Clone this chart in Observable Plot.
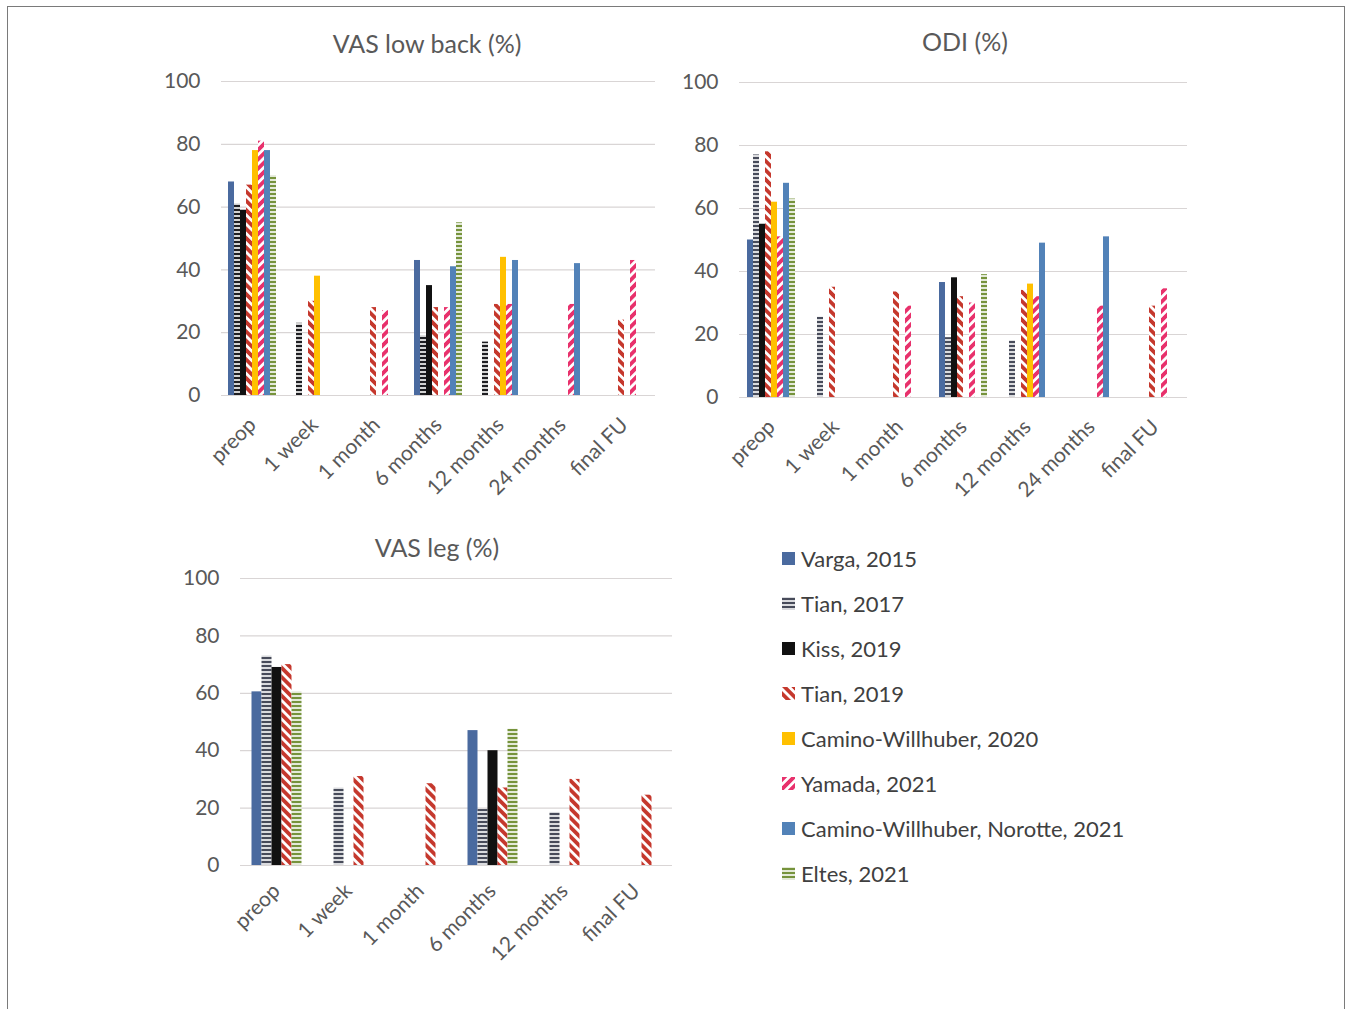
<!DOCTYPE html>
<html>
<head>
<meta charset="utf-8">
<script src="https://cdn.jsdelivr.net/npm/d3@7"></script>
<script src="https://cdn.jsdelivr.net/npm/@observablehq/plot@0.6"></script>
<style>
  html, body { margin: 0; padding: 0; background: #fff; }
  body { width: 1351px; height: 1009px; position: relative; overflow: hidden; font-family: Lato, "Open Sans", sans-serif; }
  #frame { position: absolute; left: 7px; top: 6px; width: 1338px; height: 1010px; border: 1px solid #7a7a7a; box-sizing: border-box; }
  .chart { position: absolute; }
  .title { position: absolute; font-size: 25px; color: #595959; transform: translate(-50%, -50%); white-space: nowrap; }
  #legend { position: absolute; left: 782px; top: 536px; }
  .item { display: flex; align-items: center; height: 45px; font-size: 22px; color: #404040; white-space: nowrap; }
  .item svg { margin-right: 6px; }
</style>
</head>
<body>
<div id="frame"></div>
<svg width="0" height="0" style="position:absolute">
  <defs>
    <pattern id="pTian17" patternUnits="userSpaceOnUse" width="6" height="4">
      <rect width="6" height="4" fill="#fff"/><rect y="0.8" width="6" height="2.4" fill="#474b5a"/>
    </pattern>
    <pattern id="pTian17k" patternUnits="userSpaceOnUse" width="6" height="4">
      <rect width="6" height="4" fill="#fff"/><rect y="0.8" width="6" height="2.4" fill="#1e1e22"/>
    </pattern>
    <pattern id="pEltes" patternUnits="userSpaceOnUse" width="6" height="4">
      <rect width="6" height="4" fill="#fff"/><rect y="0.8" width="6" height="2.4" fill="#76933c"/>
    </pattern>
    <pattern id="pTian19" patternUnits="userSpaceOnUse" width="6.6" height="6.6" patternTransform="rotate(-45)">
      <rect width="6.6" height="6.6" fill="#fff"/><rect width="3.8" height="6.6" fill="#c5382d"/>
    </pattern>
    <pattern id="pYamada" patternUnits="userSpaceOnUse" width="6.6" height="6.6" patternTransform="rotate(45)">
      <rect width="6.6" height="6.6" fill="#fff"/><rect width="3.8" height="6.6" fill="#e8316c"/>
    </pattern>
  </defs>
</svg>
<div class="title" style="left:427px;top:43px">VAS low back (%)</div>
<div class="title" style="left:965px;top:41px">ODI (%)</div>
<div class="title" style="left:437px;top:547px">VAS leg (%)</div>
<div id="c1" class="chart" style="left:140px;top:60px"></div>
<div id="c2" class="chart" style="left:660px;top:60px"></div>
<div id="c3" class="chart" style="left:150px;top:560px"></div>
<div id="legend"></div>
<script>
// ---- series ----
const seriesAll = ["Varga, 2015", "Tian, 2017", "Kiss, 2019", "Tian, 2019", "Camino-Willhuber, 2020", "Yamada, 2021", "Camino-Willhuber, Norotte, 2021", "Eltes, 2021"];
const seriesLeg = ["Varga, 2015", "Tian, 2017", "Kiss, 2019", "Tian, 2019", "Eltes, 2021"];
const yTicks = [0, 20, 40, 60, 80, 100];

// ---- VAS low back (%) ----
const backCats = ["preop", "1 week", "1 month", "6 months", "12 months", "24 months", "final FU"];
const backVarga2015   = [68, null, null, 43, null, null, null];
const backTian2017    = [61, 23, null, 19, 17, null, null];
const backKiss2019    = [59, null, null, 35, null, null, null];
const backTian2019    = [67, 30, 28, 28, 29, null, 24];
const backCamino2020  = [78, 38, null, null, 44, null, null];
const backYamada2021  = [81, null, 27, 28, 29, 29, 43];
const backCaminoN2021 = [78, null, null, 41, 43, 42, null];
const backEltes2021   = [70, null, null, 55, null, null, null];

// ---- ODI (%) ----
const odiCats = ["preop", "1 week", "1 month", "6 months", "12 months", "24 months", "final FU"];
const odiVarga2015   = [50, null, null, 36.5, null, null, null];
const odiTian2017    = [77, 25.5, null, 19, 18, null, null];
const odiKiss2019    = [55, null, null, 38, null, null, null];
const odiTian2019    = [78, 35, 33.5, 32, 34, null, 29];
const odiCamino2020  = [62, null, null, null, 36, null, null];
const odiYamada2021  = [51, null, 29, 30, 32, 29, 34.5];
const odiCaminoN2021 = [68, null, null, null, 49, 51, null];
const odiEltes2021   = [63, null, null, 39, null, null, null];

// ---- VAS leg (%) ----
const legCats = ["preop", "1 week", "1 month", "6 months", "12 months", "final FU"];
const legVarga2015 = [60.5, null, null, 47, null, null];
const legTian2017  = [73, 27, null, 19.5, 18.5, null];
const legKiss2019  = [69, null, null, 40, null, null];
const legTian2019  = [70, 31, 28.5, 27, 30, 24.5];
const legEltes2021 = [60.5, null, null, 47.5, null, null];

// ---- fills ----
const fillsAll = ["#4a6a9f", "url(#pTian17)", "#111111", "url(#pTian19)", "#ffc000", "url(#pYamada)", "#5282b8", "url(#pEltes)"];
const fillsBack = ["#4a6a9f", "url(#pTian17k)", "#111111", "url(#pTian19)", "#ffc000", "url(#pYamada)", "#5282b8", "url(#pEltes)"];
const fillsLeg = ["#4a6a9f", "url(#pTian17)", "#111111", "url(#pTian19)", "url(#pEltes)"];

function table(cats, series, arrays) {
  const rows = [];
  series.forEach((s, i) => {
    arrays[i].forEach((v, j) => { if (v != null) rows.push({cat: cats[j], series: s, value: v}); });
  });
  return rows;
}

function chart(el, {cats, series, fills, rows, width, height, ml, mr, mt, mb, po, fxPad}) {
  const p = Plot.plot({
    width, height,
    marginLeft: ml, marginRight: mr, marginTop: mt, marginBottom: mb,
    fx: {domain: cats, padding: 0, axis: "bottom", label: null, tickRotate: -45, tickSize: 0, tickPadding: fxPad},
    x: {domain: series, axis: null, paddingInner: 0, paddingOuter: po},
    y: {domain: [0, 100], ticks: yTicks, tickSize: 0, tickPadding: 21, label: null},
    color: {domain: series, range: fills},
    style: {fontFamily: "Lato, 'Open Sans', sans-serif", fontSize: "21px", color: "#595959", background: "transparent", overflow: "visible"},
    marks: [
      Plot.ruleY(yTicks, {stroke: "#d9d5d5", strokeWidth: 1.2}),
      Plot.barY(rows, {fx: "cat", x: "series", y: "value", fill: "series"})
    ]
  });
  document.getElementById(el).appendChild(p);
}

chart("c1", {
  cats: backCats, series: seriesAll, fills: fillsBack,
  rows: table(backCats, seriesAll, [backVarga2015, backTian2017, backKiss2019, backTian2019, backCamino2020, backYamada2021, backCaminoN2021, backEltes2021]),
  width: 535, height: 435, ml: 81, mr: 20, mt: 21, mb: 100, po: 0.77, fxPad: 26
});
chart("c2", {
  cats: odiCats, series: seriesAll, fills: fillsAll,
  rows: table(odiCats, seriesAll, [odiVarga2015, odiTian2017, odiKiss2019, odiTian2019, odiCamino2020, odiYamada2021, odiCaminoN2021, odiEltes2021]),
  width: 548, height: 437, ml: 77, mr: 20, mt: 22, mb: 100, po: 0.96, fxPad: 26
});
chart("c3", {
  cats: legCats, series: seriesLeg, fills: fillsLeg,
  rows: table(legCats, seriesLeg, [legVarga2015, legTian2017, legKiss2019, legTian2019, legEltes2021]),
  width: 544, height: 415, ml: 87.5, mr: 20, mt: 18, mb: 110, po: 0.9, fxPad: 22
});

// legend
const legend = document.getElementById("legend");
seriesAll.forEach((s, i) => {
  const d = document.createElement("div");
  d.className = "item";
  d.innerHTML = `<svg width="13" height="13"><rect width="13" height="13" fill="${fillsAll[i]}"/></svg><span>${s}</span>`;
  legend.appendChild(d);
});
</script>
</body>
</html>
